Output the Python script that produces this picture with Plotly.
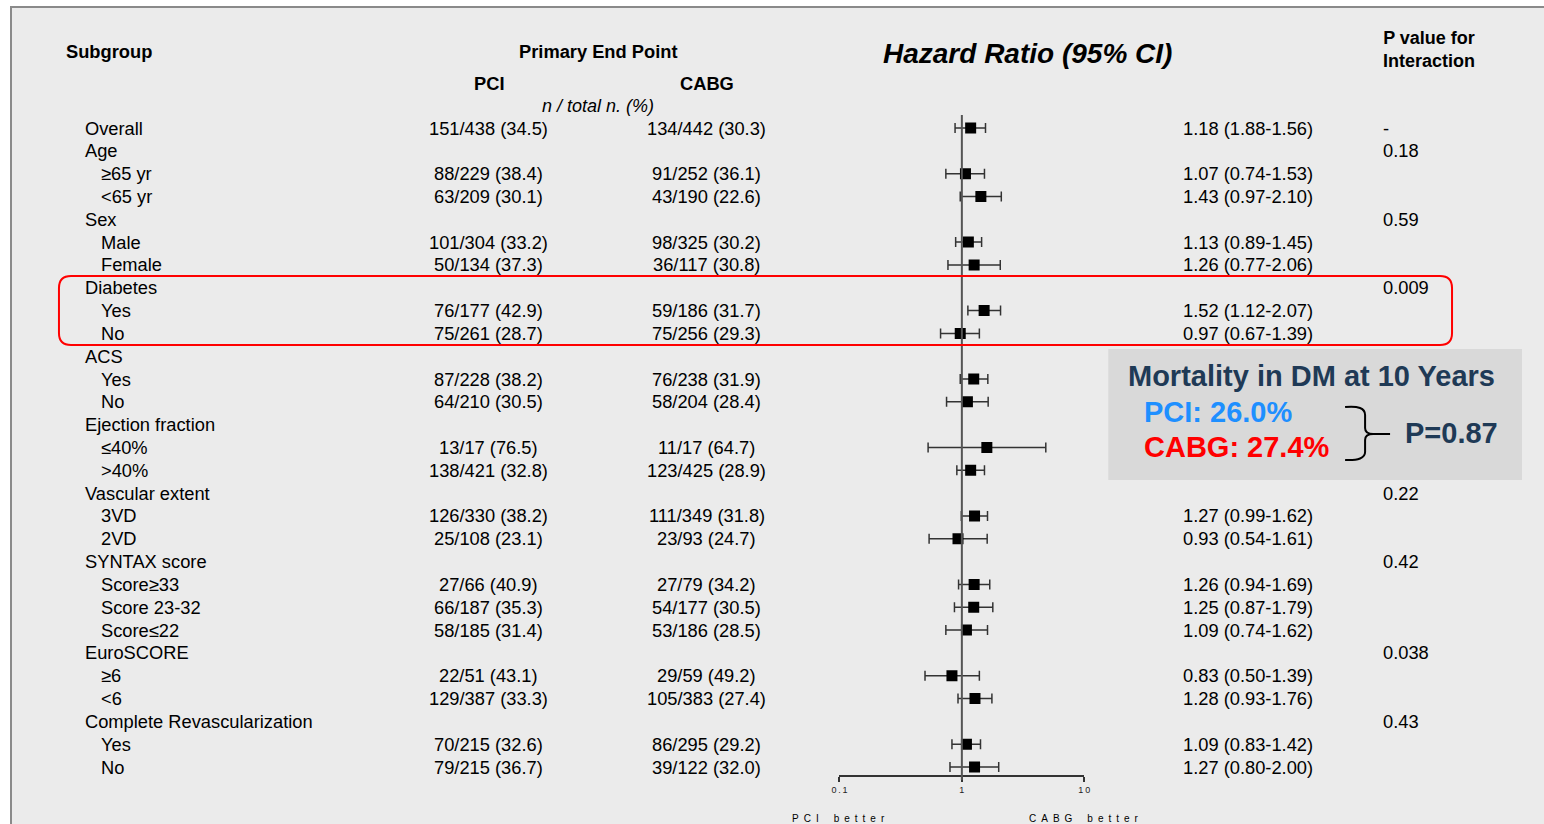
import plotly.graph_objects as go

# ---------------- data ----------------
labels = ["Overall", "Age", "≥65 yr", "<65 yr", "Sex", "Male", "Female",
          "Diabetes", "Yes", "No", "ACS", "Yes", "No", "Ejection fraction",
          "≤40%", ">40%", "Vascular extent", "3VD", "2VD", "SYNTAX score",
          "Score≥33", "Score 23-32", "Score≤22", "EuroSCORE", "≥6", "<6",
          "Complete Revascularization", "Yes", "No"]
indent = [0, 0, 1, 1, 0, 1, 1, 0, 1, 1, 0, 1, 1, 0, 1, 1, 0, 1, 1, 0, 1, 1, 1,
          0, 1, 1, 0, 1, 1]
pci_events = ["151/438 (34.5)", "", "88/229 (38.4)", "63/209 (30.1)", "",
              "101/304 (33.2)", "50/134 (37.3)", "", "76/177 (42.9)",
              "75/261 (28.7)", "", "87/228 (38.2)", "64/210 (30.5)", "",
              "13/17 (76.5)", "138/421 (32.8)", "", "126/330 (38.2)",
              "25/108 (23.1)", "", "27/66 (40.9)", "66/187 (35.3)",
              "58/185 (31.4)", "", "22/51 (43.1)", "129/387 (33.3)", "",
              "70/215 (32.6)", "79/215 (36.7)"]
cabg_events = ["134/442 (30.3)", "", "91/252 (36.1)", "43/190 (22.6)", "",
               "98/325 (30.2)", "36/117 (30.8)", "", "59/186 (31.7)",
               "75/256 (29.3)", "", "76/238 (31.9)", "58/204 (28.4)", "",
               "11/17 (64.7)", "123/425 (28.9)", "", "111/349 (31.8)",
               "23/93 (24.7)", "", "27/79 (34.2)", "54/177 (30.5)",
               "53/186 (28.5)", "", "29/59 (49.2)", "105/383 (27.4)", "",
               "86/295 (29.2)", "39/122 (32.0)"]
# text of hazard ratios (rows hidden by the inset box are empty)
hr_text = ["1.18 (1.88-1.56)", "", "1.07 (0.74-1.53)", "1.43 (0.97-2.10)", "",
           "1.13 (0.89-1.45)", "1.26 (0.77-2.06)", "", "1.52 (1.12-2.07)",
           "0.97 (0.67-1.39)", "", "", "", "", "", "", "",
           "1.27 (0.99-1.62)", "0.93 (0.54-1.61)", "", "1.26 (0.94-1.69)",
           "1.25 (0.87-1.79)", "1.09 (0.74-1.62)", "", "0.83 (0.50-1.39)",
           "1.28 (0.93-1.76)", "", "1.09 (0.83-1.42)", "1.27 (0.80-2.00)"]
p_interaction = ["-", "0.18", "", "", "0.59", "", "", "0.009", "", "", "", "",
                 "", "", "", "", "0.22", "", "", "0.42", "", "", "", "0.038",
                 "", "", "0.43", "", ""]
# plotted hazard ratios and 95% CI (None = header row)
hr = [1.18, None, 1.07, 1.43, None, 1.13, 1.26, None, 1.52, 0.97, None, 1.25,
      1.11, None, 1.60, 1.18, None, 1.27, 0.93, None, 1.26, 1.25, 1.09, None,
      0.83, 1.28, None, 1.09, 1.27]
ci_lo = [0.88, None, 0.74, 0.97, None, 0.89, 0.77, None, 1.12, 0.67, None, 0.97,
         0.75, None, 0.53, 0.91, None, 0.99, 0.54, None, 0.94, 0.87, 0.74, None,
         0.50, 0.93, None, 0.83, 0.80]
ci_hi = [1.56, None, 1.53, 2.10, None, 1.45, 2.06, None, 2.07, 1.39, None, 1.63,
         1.64, None, 4.85, 1.53, None, 1.62, 1.61, None, 1.69, 1.79, 1.62, None,
         1.39, 1.76, None, 1.42, 2.00]
axis_ticks = [0.1, 1, 10]
axis_ticktext = ["0\u2009.\u20091", "1", "1\u20090"]

# ---------------- layout helpers ----------------
W, H = 1544, 824
FONT = "Liberation Sans, Arial, sans-serif"
# calibration of horizontal placement observed in the rendering page
X_OFF, X_SCALE = 7.0, 0.9916


def px(x):
    return (x - X_OFF) / X_SCALE / W


def py(y):
    return 1 - y / H


rows = list(range(len(labels)))
pts = [i for i in rows if hr[i] is not None]

fig = go.Figure()
fig.add_trace(go.Scatter(
    x=[hr[i] for i in pts], y=pts, mode="markers",
    marker=dict(symbol="square", size=11, color="black"),
    error_x=dict(type="data", symmetric=False,
                 array=[ci_hi[i] - hr[i] for i in pts],
                 arrayminus=[hr[i] - ci_lo[i] for i in pts],
                 color="#333333", thickness=1.5, width=5),
    hoverinfo="skip", showlegend=False))

y_top_px, y_bot_px = 115, 775
row0_px, row_step = 128, (767 - 128) / 28
r_top = (y_top_px - row0_px) / row_step
r_bot = (y_bot_px - row0_px) / row_step

fig.update_layout(
    width=W, height=H, autosize=False,
    margin=dict(l=0, r=0, t=0, b=0),
    paper_bgcolor="white", plot_bgcolor="rgba(0,0,0,0)",
    showlegend=False, hovermode=False,
    font=dict(family=FONT, size=18, color="black"),
    xaxis=dict(type="log", range=[-1, 1], domain=[px(839), px(1084)],
               showgrid=False, zeroline=False, showline=True,
               linecolor="#333333", linewidth=1.5, ticks="outside",
               ticklen=5, tickwidth=1.5, tickcolor="#333333",
               tickvals=axis_ticks, ticktext=axis_ticktext,
               tickfont=dict(size=9, color="#222"), fixedrange=True),
    yaxis=dict(range=[r_bot, r_top], domain=[1 - y_bot_px / H, 1 - y_top_px / H],
               visible=False, fixedrange=True),
)

shapes = []
# frame background
shapes.append(dict(type="rect", xref="paper", yref="paper", layer="below",
                   x0=px(10), x1=1.02, y0=-0.05, y1=py(7),
                   fillcolor="#ebebeb", line=dict(color="#8a8a8a", width=2)))
# reference line at HR = 1
shapes.append(dict(type="line", xref="x", yref="y domain", x0=1, x1=1,
                   y0=-5 / (y_bot_px - y_top_px), y1=1,
                   line=dict(color="#555555", width=2)))
# highlight of diabetes rows
x0, x1, y0, y1, r = 58, 1452, 276, 345, 12
path = (f"M {px(x0 + r)},{py(y0)} L {px(x1 - r)},{py(y0)} "
        f"Q {px(x1)},{py(y0)} {px(x1)},{py(y0 + r)} L {px(x1)},{py(y1 - r)} "
        f"Q {px(x1)},{py(y1)} {px(x1 - r)},{py(y1)} L {px(x0 + r)},{py(y1)} "
        f"Q {px(x0)},{py(y1)} {px(x0)},{py(y1 - r)} L {px(x0)},{py(y0 + r)} "
        f"Q {px(x0)},{py(y0)} {px(x0 + r)},{py(y0)} Z")
shapes.append(dict(type="path", xref="paper", yref="paper", path=path,
                   line=dict(color="#ff0000", width=2)))
# inset box
shapes.append(dict(type="rect", xref="paper", yref="paper",
                   x0=px(1108), x1=px(1522), y0=py(480), y1=py(349),
                   fillcolor="#d9d9d9", line=dict(width=0)))
# brace
bp = (f"M {px(1345)},{py(407)} Q {px(1365)},{py(405)} {px(1365)},{py(415)} "
      f"L {px(1365)},{py(428)} Q {px(1365)},{py(434)} {px(1373)},{py(434)} "
      f"L {px(1390)},{py(434)} M {px(1373)},{py(434)} "
      f"Q {px(1365)},{py(434)} {px(1365)},{py(440)} L {px(1365)},{py(452)} "
      f"Q {px(1365)},{py(461)} {px(1345)},{py(460)}")
shapes.append(dict(type="path", xref="paper", yref="paper", path=bp,
                   line=dict(color="black", width=2)))
fig.update_layout(shapes=shapes)

ann = []


def A(text, x, y, xanchor="left", yref="paper", size=18, color="black", **kw):
    ann.append(dict(text=text, x=px(x), y=(py(y) if yref == "paper" else y),
                    xref="paper", yref=yref, xanchor=xanchor, yanchor="middle",
                    showarrow=False, font=dict(family=FONT, size=size, color=color),
                    **kw))


# headers
A("<b>Subgroup</b>", 63, 51, size=18.3)
A("<b>Primary End Point</b>", 597, 51, "center", size=18.3)
A("<b>PCI</b>", 488, 83, "center", size=18.3)
A("<b>CABG</b>", 706, 83, "center", size=18.3)
A("<i>n / total n. (%)</i>", 597, 106, "center", size=18)
A("<b><i>Hazard Ratio (95% CI)</i></b>", 1027, 54, "center", size=28)
A("<b>P value for<br>Interaction</b>", 1381, 49, size=18)

# table rows
for i in rows:
    A(labels[i], 82 if indent[i] == 0 else 98, i, yref="y", size=18.3)
    if pci_events[i]:
        A(pci_events[i], 488, i, "center", yref="y", size=18.3)
    if cabg_events[i]:
        A(cabg_events[i], 706, i, "center", yref="y", size=18.3)
    if hr_text[i]:
        A(hr_text[i], 1181, i, yref="y", size=18.3)
    if p_interaction[i]:
        A(p_interaction[i], 1381, i, yref="y", size=18.3)

# axis captions
sp = "\u2002"
A(sp.join("PCI") + sp * 3 + sp.join("better"), 838, 818, "center", size=10)
A(sp.join("CABG") + sp * 3 + sp.join("better"), 1084, 818, "center", size=10)

# inset text
navy = "#1f3a56"
A("<b>Mortality in DM at 10 Years</b>", 1126, 376, size=29, color=navy)
A("<b>PCI: 26.0%</b>", 1142, 412, size=29, color="#1e8fff")
A("<b>CABG: 27.4%</b>", 1142, 447, size=29, color="#ff0000")
A("<b>P=0.87</b>", 1403, 433, size=29, color=navy)

fig.update_layout(annotations=ann)
fig.write_html("out.html",
               config={"displayModeBar": False},
               post_script="document.body.style.margin='0';"
                           "document.body.style.overflow='hidden';")
